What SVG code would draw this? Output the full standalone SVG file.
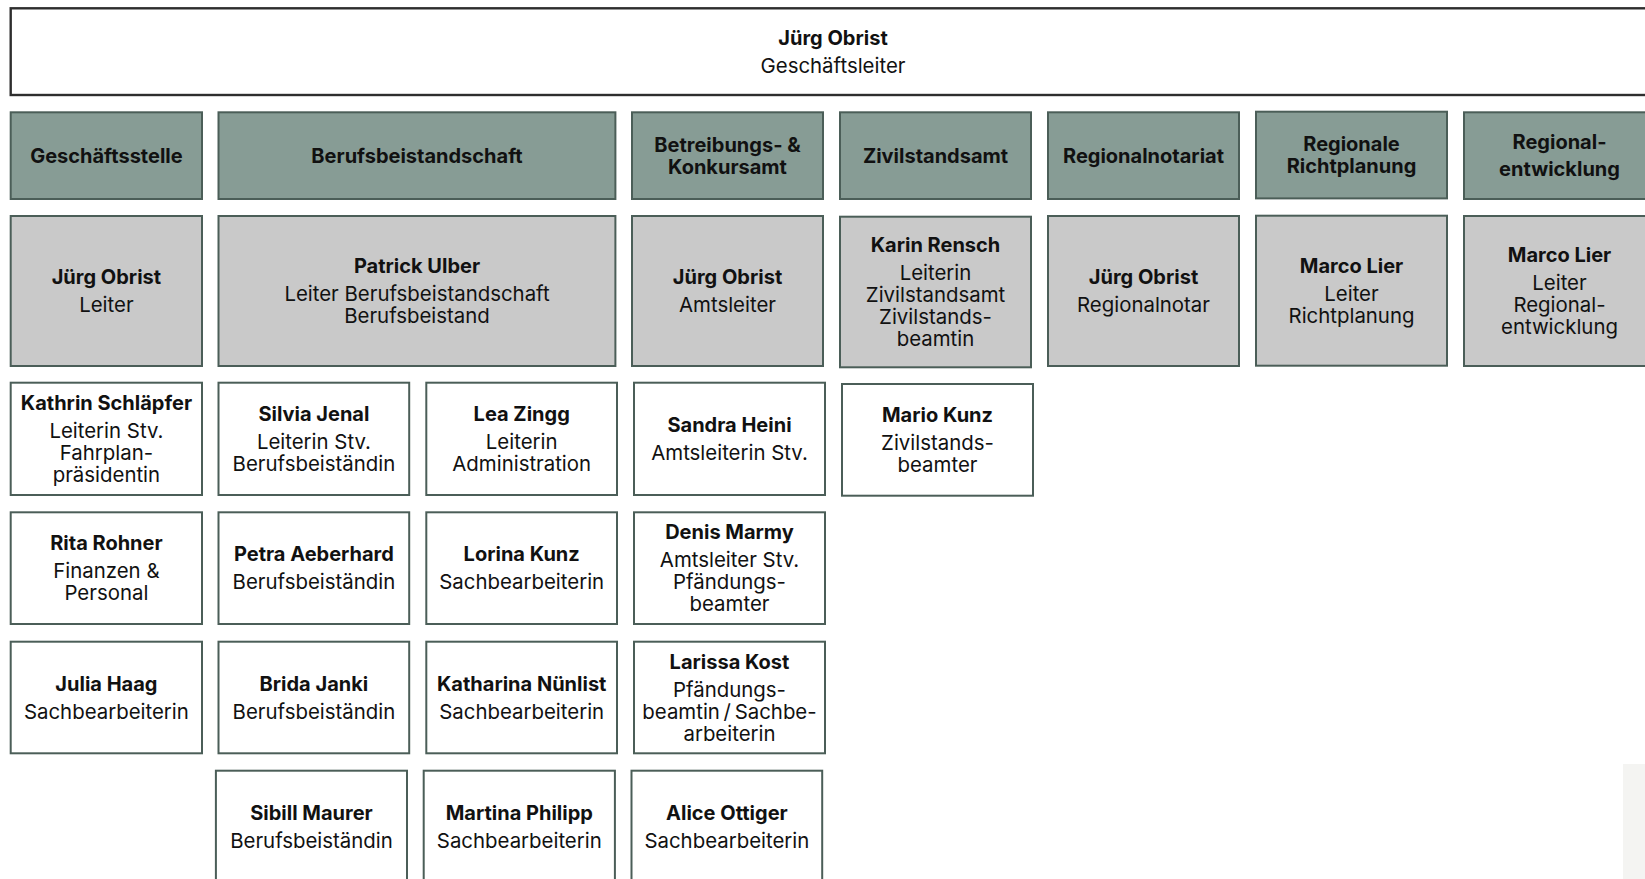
<svg xmlns="http://www.w3.org/2000/svg" width="1645" height="879" viewBox="0 0 1645 879">
<style>
.top{fill:#ffffff;stroke:#2e2e2e;stroke-width:2.4}
.dep{fill:#879c95;stroke:#4b5e58;stroke-width:2}
.lead{fill:#c9c9c9;stroke:#4b5e58;stroke-width:2}
.staff{fill:#ffffff;stroke:#4b5e58;stroke-width:2}
text{font-family:Inter,"Liberation Sans",sans-serif;font-size:20.4px;fill:#111111;text-anchor:middle}
.b{font-weight:700;font-size:20px}
</style>
<rect width="1645" height="879" fill="#ffffff"/>
<g id="connectors"></g>
<g id="n-top"><rect class="top" x="10.7" y="8.3" width="1645" height="86.7"/><text class="b" x="833" y="44.5">Jürg Obrist</text><text x="833" y="73">Geschäftsleiter</text></g>

<g id="d-geschaeftsstelle"><rect class="dep" x="10.7" y="112.3" width="191.3" height="86.7"/><text class="b" x="106.4" y="162.6">Geschäftsstelle</text></g>
<g id="d-berufsbeistandschaft"><rect class="dep" x="218.5" y="112.3" width="396.9" height="86.7"/><text class="b" x="417" y="162.6">Berufsbeistandschaft</text></g>
<g id="d-betreibung"><rect class="dep" x="632" y="112.3" width="191" height="86.7"/><text class="b" x="727.5" y="151.6">Betreibungs- &amp;</text><text class="b" x="727.5" y="173.6">Konkursamt</text></g>
<g id="d-zivilstandsamt"><rect class="dep" x="840" y="112.3" width="191" height="86.7"/><text class="b" x="935.5" y="162.6">Zivilstandsamt</text></g>
<g id="d-regionalnotariat"><rect class="dep" x="1048" y="112.3" width="191" height="86.7"/><text class="b" x="1143.5" y="162.6">Regionalnotariat</text></g>
<g id="d-richtplanung"><rect class="dep" x="1256" y="111.7" width="191" height="86.7"/><text class="b" x="1351.5" y="150.6">Regionale</text><text class="b" x="1351.5" y="172.6">Richtplanung</text></g>
<g id="d-regionalentwicklung"><rect class="dep" x="1464" y="112.3" width="191" height="86.7"/><text class="b" x="1559.5" y="149">Regional-</text><text class="b" x="1559.5" y="176">entwicklung</text></g>

<g id="l-geschaeftsstelle"><rect class="lead" x="10.7" y="216" width="191.3" height="150"/><text class="b" x="106.4" y="284">Jürg Obrist</text><text x="106.4" y="312">Leiter</text></g>
<g id="l-berufsbeistandschaft"><rect class="lead" x="218.5" y="216" width="396.9" height="150"/><text class="b" x="417" y="273">Patrick Ulber</text><text x="417" y="301">Leiter Berufsbeistandschaft</text><text x="417" y="323">Berufsbeistand</text></g>
<g id="l-betreibung"><rect class="lead" x="632" y="216" width="191" height="150"/><text class="b" x="727.5" y="284">Jürg Obrist</text><text x="727.5" y="312">Amtsleiter</text></g>
<g id="l-zivilstandsamt"><rect class="lead" x="840" y="216.7" width="191" height="150.6"/><text class="b" x="935.5" y="252">Karin Rensch</text><text x="935.5" y="280">Leiterin</text><text x="935.5" y="302">Zivilstandsamt</text><text x="935.5" y="324">Zivilstands-</text><text x="935.5" y="346">beamtin</text></g>
<g id="l-regionalnotariat"><rect class="lead" x="1048" y="216" width="191" height="150"/><text class="b" x="1143.5" y="284">Jürg Obrist</text><text x="1143.5" y="312">Regionalnotar</text></g>
<g id="l-richtplanung"><rect class="lead" x="1256" y="215.7" width="191" height="150"/><text class="b" x="1351.5" y="273">Marco Lier</text><text x="1351.5" y="301">Leiter</text><text x="1351.5" y="323">Richtplanung</text></g>
<g id="l-regionalentwicklung"><rect class="lead" x="1464" y="216" width="191" height="150"/><text class="b" x="1559.5" y="262">Marco Lier</text><text x="1559.5" y="290">Leiter</text><text x="1559.5" y="312">Regional-</text><text x="1559.5" y="334">entwicklung</text></g>

<g id="s-kathrin"><rect class="staff" x="10.7" y="382.7" width="191.3" height="112.3"/><text class="b" x="106.4" y="410">Kathrin Schläpfer</text><text x="106.4" y="438">Leiterin Stv.</text><text x="106.4" y="460">Fahrplan-</text><text x="106.4" y="482">präsidentin</text></g>
<g id="s-silvia"><rect class="staff" x="218.5" y="382.7" width="190.7" height="112.3"/><text class="b" x="313.9" y="421">Silvia Jenal</text><text x="313.9" y="449">Leiterin Stv.</text><text x="313.9" y="471">Berufsbeiständin</text></g>
<g id="s-lea"><rect class="staff" x="426.3" y="382.7" width="190.7" height="112.3"/><text class="b" x="521.7" y="421">Lea Zingg</text><text x="521.7" y="449">Leiterin</text><text x="521.7" y="471">Administration</text></g>
<g id="s-sandra"><rect class="staff" x="634" y="382.7" width="191" height="112.3"/><text class="b" x="729.5" y="432">Sandra Heini</text><text x="729.5" y="460">Amtsleiterin Stv.</text></g>
<g id="s-mario"><rect class="staff" x="842" y="384" width="191" height="111.7"/><text class="b" x="937.5" y="422">Mario Kunz</text><text x="937.5" y="450">Zivilstands-</text><text x="937.5" y="472">beamter</text></g>

<g id="s-rita"><rect class="staff" x="10.7" y="512.3" width="191.3" height="111.7"/><text class="b" x="106.4" y="550">Rita Rohner</text><text x="106.4" y="578">Finanzen &amp;</text><text x="106.4" y="600">Personal</text></g>
<g id="s-petra"><rect class="staff" x="218.5" y="512.3" width="190.7" height="111.7"/><text class="b" x="313.9" y="561">Petra Aeberhard</text><text x="313.9" y="589">Berufsbeiständin</text></g>
<g id="s-lorina"><rect class="staff" x="426.3" y="512.3" width="190.7" height="111.7"/><text class="b" x="521.7" y="561">Lorina Kunz</text><text x="521.7" y="589">Sachbearbeiterin</text></g>
<g id="s-denis"><rect class="staff" x="634" y="512.3" width="191" height="111.7"/><text class="b" x="729.5" y="539">Denis Marmy</text><text x="729.5" y="567">Amtsleiter Stv.</text><text x="729.5" y="589">Pfändungs-</text><text x="729.5" y="611">beamter</text></g>

<g id="s-julia"><rect class="staff" x="10.7" y="641.7" width="191.3" height="111.6"/><text class="b" x="106.4" y="690.5">Julia Haag</text><text x="106.4" y="718.5">Sachbearbeiterin</text></g>
<g id="s-brida"><rect class="staff" x="218.5" y="641.7" width="190.7" height="111.6"/><text class="b" x="313.9" y="690.5">Brida Janki</text><text x="313.9" y="718.5">Berufsbeiständin</text></g>
<g id="s-katharina"><rect class="staff" x="426.3" y="641.7" width="190.7" height="111.6"/><text class="b" x="521.7" y="690.5">Katharina Nünlist</text><text x="521.7" y="718.5">Sachbearbeiterin</text></g>
<g id="s-larissa"><rect class="staff" x="634" y="641.7" width="191" height="111.6"/><text class="b" x="729.5" y="668.5">Larissa Kost</text><text x="729.5" y="696.5">Pfändungs-</text><text x="729.5" y="718.5">beamtin&#8201;/&#8201;Sachbe-</text><text x="729.5" y="740.5">arbeiterin</text></g>

<g id="s-sibill"><rect class="staff" x="215.9" y="770.7" width="191.1" height="111.6"/><text class="b" x="311.5" y="819.5">Sibill Maurer</text><text x="311.5" y="847.5">Berufsbeiständin</text></g>
<g id="s-martina"><rect class="staff" x="423.7" y="770.7" width="191.2" height="111.6"/><text class="b" x="519.3" y="819.5">Martina Philipp</text><text x="519.3" y="847.5">Sachbearbeiterin</text></g>
<g id="s-alice"><rect class="staff" x="631.5" y="770.7" width="190.7" height="111.6"/><text class="b" x="726.9" y="819.5">Alice Ottiger</text><text x="726.9" y="847.5">Sachbearbeiterin</text></g>

<rect x="1623" y="764" width="22" height="115" fill="#f4f4f2"/>
</svg>
